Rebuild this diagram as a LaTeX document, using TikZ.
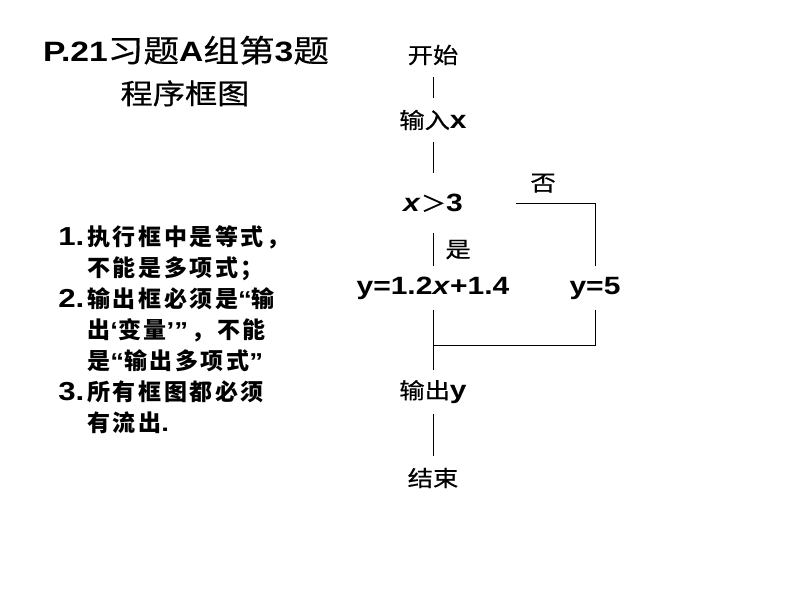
\documentclass[tikz,border=0pt]{standalone}
\usepackage{fontspec}
\setmainfont{Liberation Sans}[FakeStretch=1.2]
\newfontfamily\cjk{Noto Sans CJK SC}[FakeStretch=1.15, FakeBold=0.6]
\newfontfamily\cjknote{Noto Sans CJK SC}[LetterSpace=11]
\usepackage{tikz}

\newcommand{\zh}[2]{{\cjk\mdseries\fontsize{#1}{#1}\selectfont #2}}
\newcommand{\qt}[1]{{\rmfamily\bfseries #1}}

\begin{document}
\begin{tikzpicture}[x=1pt, y=-1pt, node distance=65pt, line width=0.8pt,
    flow/.style={minimum height=44pt, inner sep=0pt, font=\bfseries\fontsize{25}{30}\selectfont},
    tag/.style={inner sep=0pt}]
    \path [use as bounding box, fill=white] (0,0) rectangle (794,596);

    \node (title1) at (186,62) [anchor=base, font=\bfseries\fontsize{28}{34}\selectfont] {P.21\zh{31}{习题}A\zh{31}{组第}3\zh{31}{题}};
    \node (title2) at (185,104) [anchor=base] {\zh{28}{程序框图}};

    \node (notes) at (58,245) [anchor=base west, inner sep=0pt, font=\fontsize{23}{31}\selectfont] {\begin{tabular}[t]{@{}l@{\hspace{3pt}}l@{}}
        \textbf{\fontsize{26}{31}\selectfont 1.} & \cjknote\bfseries 执行框中是等式， \\
        & \cjknote\bfseries 不能是多项式； \\
        \textbf{\fontsize{26}{31}\selectfont 2.} & \cjknote\bfseries 输出框必须是\qt{“}输 \\
        & \cjknote\bfseries 出\qt{‘}变量\qt{’”}\,，不能 \\
        & \cjknote\bfseries 是\qt{“}输出多项式\qt{”} \\
        \textbf{\fontsize{26}{31}\selectfont 3.} & \cjknote\bfseries 所有框图都必须 \\
        & \cjknote\bfseries 有流出\qt{.} \\
    \end{tabular}};

    \node (start) at (433,55) [flow] {\zh{22}{开始}};
    \node (input) [flow, below of=start] {\zh{22}{输入}x};
    \node (cond) [flow, below of=input, yshift=-18pt, minimum height=60pt, minimum width=166pt] {\textit{x}\zh{22}{＞}3};
    \node (calc) [flow, below of=cond, yshift=-20pt] {y=1.2\textit{x}+1.4};
    \node (other) [flow, right of=calc, xshift=97pt] {y=5};
    \node (output) [flow, below of=calc, yshift=-39pt] {\zh{22}{输出}y};
    \node (stop) [flow, below of=output, yshift=-21pt] {\zh{22}{结束}};
    \coordinate (merge) at (433,345);

    \draw (start) -- (input);
    \draw (input) -- (cond);
    \draw (cond) -- (calc) node [tag, midway, right=12pt] {\zh{22}{是}};
    \draw (cond.east) -| (other) node [tag, pos=0.17, above=10pt] {\zh{22}{否}};
    \draw (other) |- (merge);
    \draw (calc) -- (output);
    \draw (output) -- (stop);
\end{tikzpicture}
\end{document}
